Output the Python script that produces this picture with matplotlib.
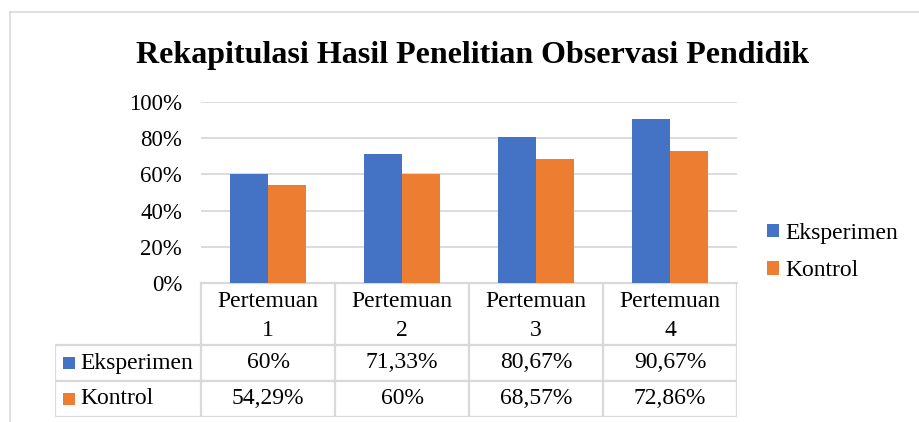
import matplotlib
matplotlib.use("Agg")
import matplotlib.pyplot as plt
from matplotlib.patches import Rectangle
from matplotlib.lines import Line2D

# ---- data ----
categories = ["Pertemuan\n1", "Pertemuan\n2", "Pertemuan\n3", "Pertemuan\n4"]
series_names = ["Eksperimen", "Kontrol"]
eksperimen = [60, 71.33, 80.67, 90.67]
kontrol = [54.29, 60, 68.57, 72.86]
yticks = [0, 20, 40, 60, 80, 100]
title = "Rekapitulasi Hasil Penelitian Observasi Pendidik"

colors = ["#4472C4", "#ED7D31"]
grid_c = "#D9D9D9"
FONT = "Liberation Serif"
plt.rcParams["font.family"] = [FONT, "DejaVu Serif"]

W, H = 920, 422
fig = plt.figure(figsize=(W / 100, H / 100), dpi=100)


def fx(px):
    return px / W


def fy(py):
    return 1 - py / H


# chart border (cropped on right and bottom)
fig.add_artist(Line2D([fx(10), fx(920)], [fy(12), fy(12)], color=grid_c, lw=1.2))
fig.add_artist(Line2D([fx(10), fx(10)], [fy(12), fy(422)], color=grid_c, lw=1.2))

# title
fig.text(fx(472.5), fy(63), title, ha="center", va="baseline",
         fontsize=23, fontweight="bold", color="#000000")

# ---- main plot area ----
L, R, T, B = 201, 737, 102, 283
ax = fig.add_axes([fx(L), fy(B), fx(R) - fx(L), fy(T) - fy(B)])
n = len(categories)
x = list(range(n))
bw = 38.3 / 134
vals = [eksperimen, kontrol]
bars = []
for s, (name, v) in enumerate(zip(series_names, vals)):
    off = (s - 0.5) * bw
    b = ax.bar([i + off for i in x], v, width=bw, color=colors[s], label=name, zorder=3)
    bars.append(b)
ax.set_xlim(-0.5, n - 0.5)
ax.set_ylim(0, 100)
ax.set_yticks(yticks)
ax.set_yticklabels([f"{t}%" for t in yticks], fontsize=16.5)
ax.tick_params(axis="y", length=0, pad=13.5)
ax.set_xticks([])
ax.yaxis.grid(True, color=grid_c, lw=1.3, zorder=0)
for sp in ["top", "right", "left"]:
    ax.spines[sp].set_visible(False)
ax.spines["bottom"].set_color(grid_c)
ax.spines["bottom"].set_linewidth(1.6)

# ---- data table ----
TL, TB = 55, 417
tax = fig.add_axes([fx(TL), fy(TB), fx(R) - fx(TL), fy(B) - fy(TB)])
tax.set_xlim(-0.5 - (L - TL) / 134, n - 0.5)
tax.set_ylim(TB - B, 0)
tax.axis("off")
hdr, r1, r2 = 62, 98, TB - B
lc = dict(color=grid_c, lw=1.6, solid_capstyle="butt")
x_left = -0.5 - (L - TL) / 134
for yy in [hdr, r1, r2]:
    tax.plot([x_left, n - 0.5], [yy, yy], **lc)
for i in range(n + 1):
    tax.plot([i - 0.5, i - 0.5], [0, r2], **lc)
tax.plot([x_left, x_left], [hdr, r2], **lc)

for i, c in enumerate(categories):
    tax.text(i, hdr / 2 + 2, c, ha="center", va="center", fontsize=17,
             linespacing=1.55)

row_centers = [(hdr + r1) / 2, (r1 + r2) / 2]
sq = 12
for s, (name, v) in enumerate(zip(series_names, vals)):
    yc = row_centers[s]
    tax.add_patch(Rectangle((x_left + (63 - TL) / 134, yc - sq / 2), sq / 134, sq,
                            color=colors[s], lw=0))
    tax.text(x_left + (80 - TL) / 134, yc, name, ha="left", va="center", fontsize=17)
    for i, val in enumerate(v):
        txt = f"{val:g}".replace(".", ",") + "%"
        tax.text(i, yc, txt, ha="center", va="center", fontsize=17)

# ---- legend ----
fig.legend(handles=bars, labels=series_names, loc="center left",
           bbox_to_anchor=(fx(767), fy(252)), frameon=False, fontsize=17,
           handlelength=0.52, handleheight=0.52, handletextpad=0.25,
           labelspacing=0.68, borderpad=0, borderaxespad=0)

fig.savefig("out.png", dpi=100)
